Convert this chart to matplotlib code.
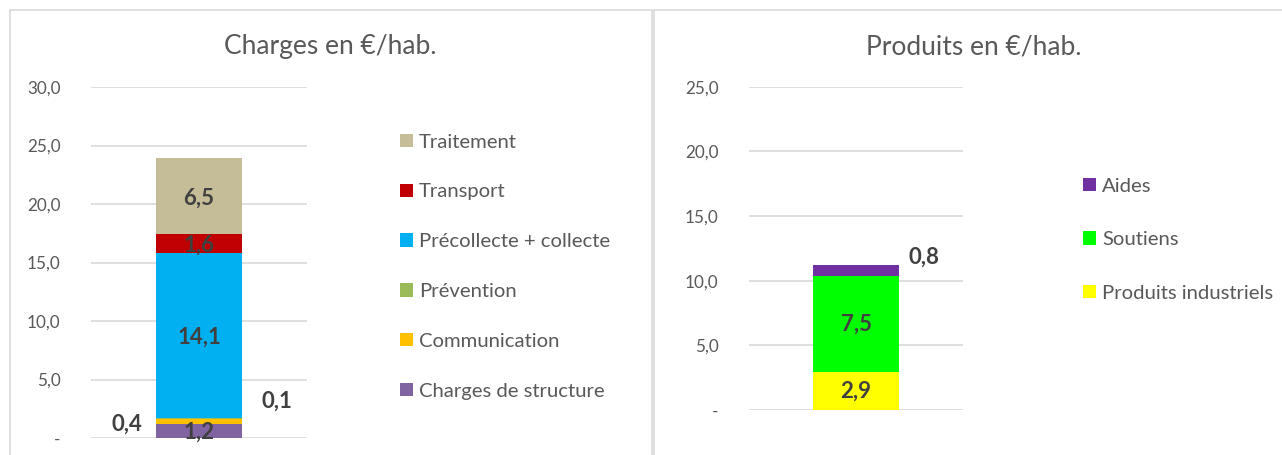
import matplotlib
matplotlib.use("Agg")
import matplotlib.pyplot as plt
from matplotlib.patches import Rectangle
import numpy as np

# ---- data ----
charges_cats = ["Charges de structure", "Communication", "Prévention",
                "Précollecte + collecte", "Transport", "Traitement"]
charges_vals = [1.2, 0.4, 0.1, 14.1, 1.6, 6.5]
charges_colors = ["#8064A2", "#FFC000", "#9BBB59", "#00B0F0", "#C00000", "#C4BD97"]

produits_cats = ["Produits industriels", "Soutiens", "Aides"]
produits_vals = [2.9, 7.5, 0.8]
produits_colors = ["#FFFF00", "#00FF00", "#7030A0"]

charges_ticks = [0, 5, 10, 15, 20, 25, 30]
produits_ticks = [0, 5, 10, 15, 20, 25]

plt.rcParams['font.family'] = ['Lato', 'DejaVu Sans']

W, H = 1282, 455
fig = plt.figure(figsize=(W / 100, H / 100), dpi=100)
fig.patch.set_facecolor("white")

def fx(px):
    return px / W

def fy(py):
    return 1 - py / H

# chart borders
border = "#D9D9D9"
fig.patches.append(Rectangle((fx(10), fy(470)), fx(642), (470 - 10) / H,
                             transform=fig.transFigure, fill=False,
                             edgecolor=border, lw=1.2))
fig.patches.append(Rectangle((fx(654), fy(470)), fx(640), (470 - 10) / H,
                             transform=fig.transFigure, fill=False,
                             edgecolor=border, lw=1.2))

TICK_C = "#595959"
LBL_C = "#404040"
LBL_FS = 16
LEG_FS = 14.6

def fmt(v):
    return "-" if v == 0 else f"{v:.1f}".replace(".", ",")

def setup_axis(ax, ticks, pad):
    ax.set_xlim(-0.5, 0.5)
    ax.set_ylim(ticks[0], ticks[-1])
    ax.set_yticks(ticks)
    ax.set_yticklabels([fmt(t) for t in ticks])
    ax.tick_params(axis="y", length=0, pad=pad, labelsize=12.3, labelcolor=TICK_C)
    ax.set_xticks([])
    for s in ax.spines.values():
        s.set_visible(False)
    ax.grid(axis="y", color="#D9D9D9", lw=1.2)
    ax.set_axisbelow(True)
    ax.patch.set_alpha(0)

# ---- left chart ----
axL = fig.add_axes([fx(91), fy(438), fx(216), (438 - 87) / H])
setup_axis(axL, charges_ticks, 22)
bottom = 0.0
bw = 0.40
handlesL = []
for cat, v, c in zip(charges_cats, charges_vals, charges_colors):
    b = axL.bar(0, v, bw, bottom=bottom, color=c, label=cat, clip_on=False)
    handlesL.append(b)
    lab = fmt(v)
    if cat == "Communication":
        axL.annotate(lab, (-bw / 2, bottom + v / 2), xytext=(-10, -2),
                     textcoords="offset points", ha="right", va="center",
                     fontsize=LBL_FS, fontweight="bold", color=LBL_C)
    elif cat == "Prévention":
        axL.annotate(lab, (bw / 2, bottom + v / 2), xytext=(14, 12.5),
                     textcoords="offset points", ha="left", va="center",
                     fontsize=LBL_FS, fontweight="bold", color=LBL_C)
    else:
        axL.annotate(lab, (0, bottom + v / 2), xytext=(0, -1),
                     textcoords="offset points", ha="center", va="center",
                     fontsize=LBL_FS, fontweight="bold", color=LBL_C)
    bottom += v

fig.text(fx(330), fy(54), "Charges en €/hab.", ha="center", va="baseline",
         fontsize=19, color=TICK_C)

fig.legend(handles=handlesL[::-1], labels=charges_cats[::-1],
           loc="upper left", bbox_to_anchor=(fx(400), fy(133.5)),
           frameon=False, fontsize=LEG_FS, labelcolor=TICK_C,
           handlelength=0.64, handleheight=0.64, handletextpad=0.3,
           labelspacing=1.62, borderaxespad=0, borderpad=0)

# ---- right chart ----
axR = fig.add_axes([fx(749), fy(410), fx(214), (410 - 86.7) / H])
setup_axis(axR, produits_ticks, 22)
bottom = 0.0
handlesR = []
for cat, v, c in zip(produits_cats, produits_vals, produits_colors):
    b = axR.bar(0, v, bw, bottom=bottom, color=c, label=cat, clip_on=False)
    handlesR.append(b)
    lab = fmt(v)
    if cat == "Aides":
        axR.annotate(lab, (bw / 2, bottom + v), xytext=(7, 5.5),
                     textcoords="offset points", ha="left", va="center",
                     fontsize=LBL_FS, fontweight="bold", color=LBL_C)
    else:
        axR.text(0, bottom + v / 2, lab, ha="center", va="center",
                 fontsize=LBL_FS, fontweight="bold", color=LBL_C)
    bottom += v

fig.text(fx(974), fy(54), "Produits en €/hab.", ha="center", va="baseline",
         fontsize=19, color=TICK_C)

fig.legend(handles=handlesR[::-1], labels=produits_cats[::-1],
           loc="upper left", bbox_to_anchor=(fx(1083), fy(177.5)),
           frameon=False, fontsize=LEG_FS, labelcolor=TICK_C,
           handlelength=0.64, handleheight=0.64, handletextpad=0.3,
           labelspacing=1.81, borderaxespad=0, borderpad=0)

fig.savefig("out.png", dpi=100, facecolor="white")
